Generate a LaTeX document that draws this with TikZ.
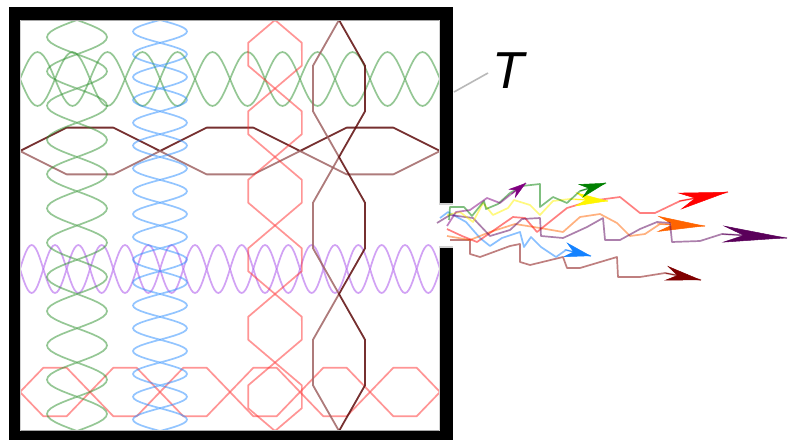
\documentclass[tikz,border=0pt]{standalone}
\usepackage{fontspec}
\newfontfamily\labelfont{Liberation Sans}
\usetikzlibrary{arrows.meta,calc}

% standing-wave colours
\definecolor{wgreen}{RGB}{45,145,45}
\definecolor{wblue}{RGB}{40,140,255}
\definecolor{wred}{RGB}{255,45,45}
\definecolor{wpurple}{RGB}{165,70,235}
\definecolor{wdark}{RGB}{95,12,12}
\definecolor{wrosy}{RGB}{160,100,100}
% escaping-ray colours
\definecolor{ered}{RGB}{255,0,0}
\definecolor{eorange}{RGB}{255,100,0}
\definecolor{eplum}{RGB}{90,0,90}
\definecolor{eblue}{RGB}{20,130,255}
\definecolor{emaroon}{RGB}{128,0,0}
\definecolor{eyellow}{RGB}{255,245,0}
\definecolor{egreen}{RGB}{0,128,0}
\definecolor{emagenta}{RGB}{128,0,128}

\tikzset{
  wave/.style={draw=#1, line width=1.7pt, draw opacity=0.5, line join=round},
  maroonline/.style={draw=#1, line width=1.8pt, draw opacity=0.85, line join=round},
  ray/.style={draw=#1, line width=1.7pt, draw opacity=0.5, line join=round},
  wall/.style={fill=black},
  rim/.style={draw=gray!70, line width=1.2pt},
  leader/.style={draw=gray!55, line width=1.6pt},
}

% horizontal standing wave: centre y, amplitude, half-waves, samples, upper style, lower style
\newcommand\standH[6]{%
  \draw[#5] plot[domain=20:440, samples=#4] (\x,{#1-#2*abs(sin(((\x-20)/420)*#3*180))});
  \draw[#6] plot[domain=20:440, samples=#4] (\x,{#1+#2*abs(sin(((\x-20)/420)*#3*180))});}
% vertical standing wave: centre x, amplitude, half-waves, samples, left style, right style
\newcommand\standV[6]{%
  \draw[#5] plot[variable=\t, domain=20:431, samples=#4] ({#1-#2*abs(sin(((\t-20)/411)*#3*180))},\t);
  \draw[#6] plot[variable=\t, domain=20:431, samples=#4] ({#1+#2*abs(sin(((\t-20)/411)*#3*180))},\t);}
% escaping ray: colour, path, last corner, tip, head length, head width
\newcommand\emitray[6]{%
  \draw[ray=#1] #2 -- #3 -- #4;
  \draw[#1, line width=0.5pt, -{Stealth[length=#5, width=#6]}] ($#4!#5!#3$) -- #4;}

\begin{document}
\begin{tikzpicture}[x=1pt,y=-1pt]
\useasboundingbox (0,0) rectangle (794,439);
\fill[white] (0,0) rectangle (794,439);

% modes inside the cavity
\standH{79}{27}{12}{145}{wave=wgreen}{wave=wgreen}
\standH{151}{27}{3}{10}{maroonline=wdark}{maroonline=wrosy}
\standH{269}{24}{18}{217}{wave=wpurple}{wave=wpurple}
\standH{392}{28}{6}{19}{wave=wred}{wave=wred}
\standV{77}{30}{12}{145}{wave=wgreen}{wave=wgreen}
\standV{160}{27}{18}{217}{wave=wblue}{wave=wblue}
\standV{275}{31}{6}{19}{wave=wred}{wave=wred}
\standV{339}{30}{3}{10}{maroonline=wrosy}{maroonline=wdark}

% cavity walls with the opening on the right
\fill[wall] (9,7) rectangle (453,20);
\fill[wall] (9,7) rectangle (20,446);
\fill[wall] (9,431) rectangle (453,446);
\fill[wall] (440,7) rectangle (453,204);
\fill[wall] (440,247) rectangle (453,446);
\draw[rim] (20,20.6) -- (440,20.6);
\draw[rim] (20,430.4) -- (440,430.4);
\draw[rim, draw=gray!35] (20.6,20) -- (20.6,431);
\draw[rim, draw=gray!35] (439.4,20) -- (439.4,204) -- (453,204);
\draw[rim, draw=gray!35] (453,247) -- (439.4,247) -- (439.4,431);

% radiation leaving through the opening
\coordinate (redtip) at (728,192);
\coordinate (orangetip) at (705,226);
\coordinate (plumtip) at (787,238);
\coordinate (bluetip) at (591,256);
\coordinate (maroontip) at (701,280);
\coordinate (yellowtip) at (608,201);
\coordinate (greentip) at (606,183);
\coordinate (magentatip) at (526,183);

\emitray{emaroon}{(450,240) -- (470,240) -- (470,254) -- (480,257) -- (510,246) -- (520,244) -- (520,262) -- (530,265) -- (563,257) -- (567,268) -- (580,268) -- (617,257) -- (618,277) -- (640,277)}{(665,273)}{(maroontip)}{36pt}{15pt}
\emitray{eblue}{(440,218) -- (448,212) -- (466,222) -- (480,238) -- (490,246) -- (502,238) -- (520,232) -- (524,247) -- (531,237) -- (541,247) -- (556,257)}{(566,250)}{(bluetip)}{27pt}{15pt}
\emitray{eorange}{(447,236) -- (470,240) -- (490,232) -- (515,224) -- (540,228) -- (563,232) -- (580,217) -- (600,214) -- (617,223) -- (630,236) -- (645,234)}{(660,224)}{(orangetip)}{48pt}{16pt}
\emitray{ered}{(447,229) -- (462,236) -- (477,242) -- (500,226) -- (513,217) -- (525,218) -- (537,232) -- (552,220) -- (567,208) -- (590,201) -- (620,197) -- (640,213) -- (655,213)}{(680,201)}{(redtip)}{50pt}{17pt}
\emitray{eplum}{(437,223) -- (450,215) -- (473,218) -- (490,236) -- (510,230) -- (522,219) -- (540,218) -- (541,236) -- (563,238) -- (587,227) -- (603,218) -- (605,240) -- (620,240) -- (640,229) -- (657,222) -- (670,223) -- (672,242) -- (700,241)}{(722,234)}{(plumtip)}{65pt}{17pt}
\emitray{eyellow}{(447,215) -- (460,212) -- (473,222) -- (483,203) -- (493,215) -- (508,208) -- (514,200) -- (530,205) -- (540,215) -- (553,201)}{(570,199)}{(yellowtip)}{33pt}{14pt}
\emitray{egreen}{(449,220) -- (450,207) -- (464,207) -- (472,216) -- (484,201) -- (486,209) -- (498,204) -- (510,193) -- (522,186) -- (540,184) -- (540,207) -- (553,197) -- (567,203)}{(580,191)}{(greentip)}{27pt}{14pt}
\emitray{emagenta}{(447,226) -- (456,212) -- (470,210) -- (487,198) -- (500,203)}{(510,195)}{(magentatip)}{18pt}{11pt}

% wall label
\node[anchor=base west, inner sep=0pt, font={\labelfont\itshape\fontsize{52pt}{52pt}\selectfont}] (tlabel) at (492,88) {T};
\coordinate (wallpt) at (454,92);
\coordinate (leadend) at (488,73);
\draw[leader] (wallpt) -- (leadend);
\end{tikzpicture}
\end{document}
